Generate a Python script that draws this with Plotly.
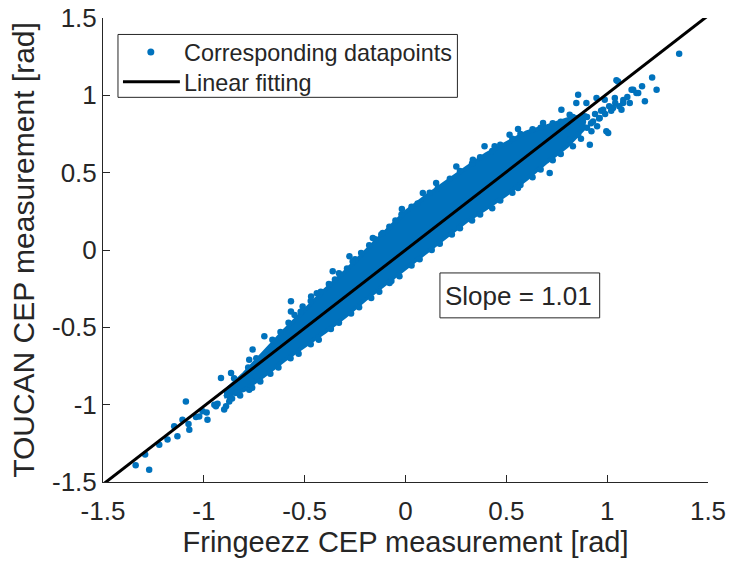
import plotly.graph_objects as go

# ---- data ----
# dense core of the cloud: envelope (upper / lower) at sampled x positions
band_x  = [-0.90, -0.80, -0.70, -0.60, -0.50, -0.40, -0.30, -0.20, -0.10, 0.00,
           0.10, 0.20, 0.30, 0.40, 0.50, 0.60, 0.70, 0.80, 0.88]
band_hi = [-0.92, -0.80, -0.66, -0.52, -0.39, -0.26, -0.14, -0.01, 0.12, 0.245,
           0.345, 0.44, 0.53, 0.62, 0.69, 0.76, 0.80, 0.845, 0.87]
band_lo = [-0.95, -0.905, -0.81, -0.71, -0.62, -0.53, -0.43, -0.32, -0.22, -0.115,
           -0.015, 0.085, 0.185, 0.27, 0.36, 0.46, 0.57, 0.67, 0.78]

# individually visible datapoints (edges of the cloud and sparse tails)
tail_low_x = [-1.338, -1.271, -1.291, -1.221, -1.180, -1.147, -1.131, -1.106, -1.089, -1.076,
              -1.072, -1.039, -1.023, -1.006, -0.986, -0.982, -0.948, -0.932, -0.940, -0.899,
              -0.890, -0.915, -0.874, -0.874, -0.865, -0.841, -0.775, -0.775, -0.758, -0.741, -0.700]
tail_low_y = [-1.391, -1.420, -1.323, -1.259, -1.226, -1.140, -1.205, -1.097, -0.979, -1.125,
              -1.162, -1.080, -1.076, -1.043, -1.050, -1.097, -1.000, -0.994, -1.011, -1.032,
              -1.011, -0.827, -0.979, -0.946, -0.795, -0.924, -0.903, -0.709, -0.644, -0.817, -0.558]

upper_edge_x = [-0.85, -0.78, -0.74, -0.66, -0.62, -0.58, -0.55, -0.52, -0.47, -0.44, -0.42, -0.38,
                -0.35, -0.33, -0.29, -0.25, -0.22, -0.18, -0.15, -0.12, -0.08, -0.05, -0.02, 0.03,
                0.06, 0.12, 0.16, 0.22, 0.27, 0.33, 0.37, 0.43, 0.47, 0.53, 0.57, 0.63, 0.67, 0.73,
                0.77, 0.83]
upper_edge_y = [-0.83, -0.76, -0.70, -0.58, -0.53, -0.47, -0.42, -0.40, -0.33, -0.28, -0.27, -0.22,
                -0.19, -0.15, -0.12, -0.06, -0.02, 0.03, 0.07, 0.10, 0.15, 0.19, 0.23, 0.28,
                0.30, 0.37, 0.40, 0.46, 0.51, 0.56, 0.60, 0.64, 0.68, 0.72, 0.75, 0.78, 0.79, 0.82,
                0.83, 0.86]

lower_edge_x = [-0.86, -0.82, -0.76, -0.72, -0.67, -0.63, -0.57, -0.53, -0.47, -0.43, -0.37, -0.33,
                -0.27, -0.23, -0.17, -0.13, -0.07, -0.03, 0.03, 0.07, 0.13, 0.17, 0.23, 0.27,
                0.33, 0.37, 0.43, 0.47, 0.53, 0.57, 0.63, 0.67, 0.73, 0.77, 0.83, 0.87]
lower_edge_y = [-0.96, -0.94, -0.89, -0.85, -0.80, -0.76, -0.70, -0.67, -0.61, -0.58, -0.51, -0.47,
                -0.41, -0.37, -0.31, -0.27, -0.20, -0.17, -0.10, -0.06, 0.00, 0.04, 0.10, 0.14,
                0.19, 0.23, 0.27, 0.32, 0.37, 0.42, 0.47, 0.52, 0.58, 0.62, 0.67, 0.72]

spikes_x = [-0.568, -0.568, -0.510, -0.468, -0.361, -0.278, -0.262, -0.162, -0.113, -0.018,
            0.086, 0.152, 0.252, 0.334, 0.392, 0.442, 0.516, 0.558, 0.682, 0.558, 0.715, -0.079]
spikes_y = [-0.332, -0.397, -0.365, -0.300, -0.138, -0.041, -0.074, 0.078, 0.110, 0.265,
            0.368, 0.433, 0.540, 0.584, 0.670, 0.670, 0.745, 0.782, 0.821, 0.401, 0.498, -0.213]

tail_high_x = [0.773, 0.814, 0.847, 0.856, 0.897, 0.947, 0.988, 1.054, 0.86, 0.88, 0.90, 0.92,
               0.94, 0.96, 0.97, 0.99, 1.01, 1.02, 1.04, 1.06, 1.08, 1.10, 0.90, 0.95, 0.914,
               0.922, 0.996, 1.005, 0.963, 1.029, 1.071, 1.038, 1.079, 0.980, 0.930, 0.880,
               0.856, 0.814, 0.889, 1.112, 1.121, 1.129, 1.145, 1.154, 1.173, 1.187, 1.223,
               1.245, 1.357, 1.046]
tail_high_y = [0.907, 0.875, 0.950, 1.004, 0.950, 0.983, 0.972, 1.090, 0.80, 0.83, 0.86, 0.82,
               0.88, 0.85, 0.90, 0.88, 0.93, 0.90, 0.95, 0.93, 0.97, 0.99, 0.79, 0.80, 0.681,
               0.767, 0.767, 0.756, 0.853, 0.918, 0.907, 0.983, 0.950, 0.907, 0.831, 0.799,
               0.745, 0.713, 0.864, 0.950, 1.036, 1.036, 1.015, 1.015, 1.058, 0.961, 1.116,
               1.036, 1.269, 1.097]

fit_x = [-1.5, 1.5]
fit_y = [-1.515, 1.515]

x_ticks = [-1.5, -1, -0.5, 0, 0.5, 1, 1.5]
x_tick_text = ["-1.5", "-1", "-0.5", "0", "0.5", "1", "1.5"]
y_ticks = [-1.5, -1, -0.5, 0, 0.5, 1, 1.5]
y_tick_text = ["-1.5", "-1", "-0.5", "0", "0.5", "1", "1.5"]

BLUE = "#0072BD"
INK = "#262626"
FONT = "Liberation Sans, Arial, Helvetica, sans-serif"

pts_x = tail_low_x + upper_edge_x + lower_edge_x + spikes_x + tail_high_x
pts_y = tail_low_y + upper_edge_y + lower_edge_y + spikes_y + tail_high_y

fig = go.Figure()
fig.add_trace(go.Scatter(
    x=band_x + band_x[::-1], y=band_hi + band_lo[::-1],
    mode="lines", fill="toself", fillcolor=BLUE,
    line=dict(color=BLUE, width=4), hoverinfo="skip", showlegend=False))
fig.add_trace(go.Scatter(
    x=pts_x, y=pts_y, mode="markers",
    marker=dict(color=BLUE, size=6.5, line=dict(width=0)),
    name="Corresponding datapoints", showlegend=False))
fig.add_trace(go.Scatter(
    x=fit_x, y=fit_y, mode="lines",
    line=dict(color="black", width=3),
    name="Linear fitting", showlegend=False))

W, H = 730, 562
X0, X1, Y0, Y1 = 102.5, 708.5, 17.5, 482.5       # plot area in window pixels
L, R, T, B = X0, W - X1, Y0, H - Y1
PW, PH = X1 - X0, Y1 - Y0

def px(x):
    return (x - X0) / PW

def py(y):
    return (Y1 - y) / PH

shapes = [
    # legend box
    dict(type="rect", xref="paper", yref="paper", x0=px(117.5), x1=px(457.5),
         y0=py(97), y1=py(34), line=dict(color=INK, width=1), fillcolor="white", layer="above"),
    # legend line key
    dict(type="line", xref="paper", yref="paper", x0=px(122.5), x1=px(179.5),
         y0=py(81.3), y1=py(81.3), line=dict(color="black", width=3), layer="above"),
    # legend marker key
    dict(type="circle", xref="paper", yref="paper", xsizemode="pixel", ysizemode="pixel",
         xanchor=px(150.4), yanchor=py(51.5), x0=-3.5, x1=3.5, y0=-3.5, y1=3.5,
         fillcolor=BLUE, line=dict(width=0), layer="above"),
    # slope text box
    dict(type="rect", xref="paper", yref="paper", x0=px(440), x1=px(600),
         y0=py(318), y1=py(273), line=dict(color=INK, width=1), fillcolor="white", layer="above"),
]

annotations = [
    dict(text="Corresponding datapoints", xref="paper", yref="paper", x=px(182), y=py(52.5),
         xanchor="left", yanchor="middle", showarrow=False,
         font=dict(family=FONT, size=23.4, color=INK)),
    dict(text="Linear fitting", xref="paper", yref="paper", x=px(182), y=py(82.5),
         xanchor="left", yanchor="middle", showarrow=False,
         font=dict(family=FONT, size=23.4, color=INK)),
    dict(text="Slope = 1.01", xref="paper", yref="paper", x=px(519), y=py(296),
         xanchor="center", yanchor="middle", showarrow=False,
         font=dict(family=FONT, size=26, color=INK)),
]

axis_common = dict(
    range=[-1.5, 1.5], showgrid=False, zeroline=False, showline=True,
    linecolor=INK, linewidth=1, ticks="inside", ticklen=7, tickwidth=1, tickcolor=INK,
    tickfont=dict(family=FONT, size=26, color=INK), mirror=False,
    ticklabeloverflow="allow",
)

fig.update_layout(
    width=W, height=H,
    margin=dict(l=L, r=R, t=T, b=B, autoexpand=False),
    paper_bgcolor="white", plot_bgcolor="white",
    showlegend=False,
    shapes=shapes, annotations=annotations,
    xaxis=dict(axis_common, tickvals=x_ticks, ticktext=x_tick_text, ticklabelstandoff=6,
               title=dict(text="Fringeezz CEP measurement [rad]",
                          font=dict(family=FONT, size=29, color=INK), standoff=6)),
    yaxis=dict(axis_common, tickvals=y_ticks, ticktext=y_tick_text,
               title=dict(text="TOUCAN CEP measurement [rad]",
                          font=dict(family=FONT, size=30, color=INK), standoff=8)),
)

# remove the default 8px page margin so the figure sits at the window corner
fig.write_html("out.html", config={"displayModeBar": False},
               post_script="document.body.style.margin='0px';")
